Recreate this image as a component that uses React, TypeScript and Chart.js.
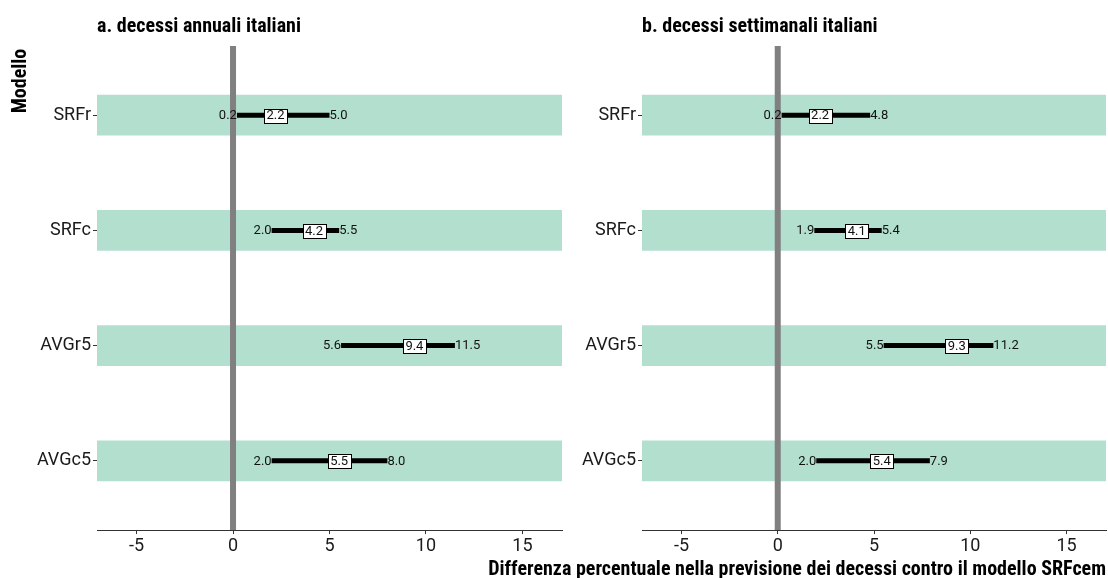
import React, { useEffect, useRef } from "react";
import { Chart, registerables } from "chart.js";
Chart.register(...registerables);

const categories = ["SRFr", "SRFc", "AVGr5", "AVGc5"];
const annualLow = [0.2, 2.0, 5.6, 2.0];
const annualMid = [2.2, 4.2, 9.4, 5.5];
const annualHigh = [5.0, 5.5, 11.5, 8.0];
const weeklyLow = [0.2, 1.9, 5.5, 2.0];
const weeklyMid = [2.2, 4.1, 9.3, 5.4];
const weeklyHigh = [4.8, 5.4, 11.2, 7.9];
const xTicks = [-5, 0, 5, 10, 15];
const xMin = -7.05;
const xMax = 17.05;

const COND = "'Roboto Condensed', 'Liberation Sans Narrow', 'DejaVu Sans Condensed', Roboto, sans-serif";
const TICKF = "Roboto, 'Noto Sans', sans-serif";
const NUMF = "Roboto, 'Noto Sans', sans-serif";
const BAND = "#b3e0ce";
const ZERO = "#808080";

type PanelProps = {
  title: string;
  low: number[];
  mid: number[];
  high: number[];
  left: number;
  width: number;
  yAxisWidth: number;
  padRight: number;
  showYTitle: boolean;
};

function Panel(p: PanelProps) {
  const ref = useRef<HTMLCanvasElement | null>(null);
  useEffect(() => {
    if (!ref.current) return;
    const labelPlugin = {
      id: "labelPlugin",
      afterDatasetsDraw(chart: any) {
        const { ctx, scales } = chart;
        const x = scales.x;
        const y = scales.y;
        ctx.save();
        ctx.textBaseline = "middle";
        ctx.font = `13px ${NUMF}`;
        categories.forEach((_, i) => {
          const py = y.getPixelForValue(i) + 0.5;
          ctx.fillStyle = "#111";
          ctx.textAlign = "right";
          ctx.fillText(p.low[i].toFixed(1), x.getPixelForValue(p.low[i]), py);
          ctx.textAlign = "left";
          ctx.fillText(p.high[i].toFixed(1), x.getPixelForValue(p.high[i]), py);
          const t = p.mid[i].toFixed(1);
          const w = Math.round(ctx.measureText(t).width + 5);
          const h = 14;
          const px = x.getPixelForValue(p.mid[i]);
          const bx = Math.round(px - w / 2) + 0.5;
          const by = Math.round(py - h / 2) + 0.5;
          ctx.fillStyle = "#fff";
          ctx.fillRect(bx, by, w, h);
          ctx.strokeStyle = "#000";
          ctx.lineWidth = 1;
          ctx.strokeRect(bx, by, w, h);
          ctx.fillStyle = "#111";
          ctx.textAlign = "center";
          ctx.fillText(t, px, py + 0.5);
        });
        ctx.restore();
      },
      afterDraw(chart: any) {
        const { ctx } = chart;
        ctx.save();
        ctx.fillStyle = "#000";
        ctx.textBaseline = "middle";
        ctx.textAlign = "left";
        ctx.font = `bold 20px ${COND}`;
        ctx.fillText(p.title, chart.chartArea.left, 27);
        if (p.showYTitle) {
          ctx.translate(21, 81);
          ctx.rotate(-Math.PI / 2);
          ctx.textAlign = "center";
          ctx.fillText("Modello", 0, 0);
        }
        ctx.restore();
      },
    };

    const datasets: any[] = [
      {
        type: "bar",
        indexAxis: "y",
        data: categories.map((_, i) => ({ y: i, x: [xMin, xMax] })),
        backgroundColor: BAND,
        barThickness: 40,
        borderWidth: 0,
        order: 10,
      },
      {
        type: "line",
        data: [
          { x: 0, y: -0.6 },
          { x: 0, y: 3.6 },
        ],
        borderColor: ZERO,
        borderWidth: 6,
        pointRadius: 0,
        borderCapStyle: "butt",
        order: 5,
      },
      ...categories.map((_, i) => ({
        type: "line",
        data: [
          { x: p.low[i], y: i },
          { x: p.high[i], y: i },
        ],
        borderColor: "#000",
        borderWidth: 5,
        pointRadius: 0,
        borderCapStyle: "butt",
        order: 1,
      })),
    ];

    const chart = new Chart(ref.current, {
      type: "line",
      data: { datasets },
      plugins: [labelPlugin],
      options: {
        animation: false,
        responsive: false,
        events: [],
        layout: { padding: { left: 0, top: 46, right: p.padRight, bottom: 0 } },
        plugins: { legend: { display: false }, tooltip: { enabled: false } },
        scales: {
          x: {
            type: "linear",
            min: xMin,
            max: xMax,
            offset: false,
            afterBuildTicks: (s: any) => {
              s.ticks = xTicks.map((v) => ({ value: v }));
            },
            afterFit: (s: any) => {
              s.height = 48;
            },
            grid: { offset: false, drawOnChartArea: false, drawTicks: true, tickLength: 4, color: "#333" },
            border: { display: true, color: "#333", width: 1 },
            ticks: {
              color: "#1a1a1a",
              padding: 2,
              font: { family: TICKF, size: 18 },
              callback: (v: any) => String(v),
            },
          },
          y: {
            type: "linear",
            min: -0.6,
            max: 3.6,
            reverse: true,
            offset: false,
            afterBuildTicks: (s: any) => {
              s.ticks = categories.map((_, i) => ({ value: i }));
            },
            afterFit: (s: any) => {
              s.width = p.yAxisWidth;
            },
            grid: { offset: false, drawOnChartArea: false, drawTicks: true, tickLength: 4, color: "#333" },
            border: { display: false },
            ticks: {
              color: "#1a1a1a",
              padding: 2,
              font: { family: TICKF, size: 18 },
              callback: (v: any) => categories[v] ?? "",
            },
          },
        },
      } as any,
    });
    return () => chart.destroy();
  }, []);
  return (
    <canvas
      ref={ref}
      width={p.width}
      height={578}
      style={{ position: "absolute", left: p.left, top: 0, width: p.width, height: 578 }}
    />
  );
}

export default function App() {
  return (
    <div
      style={{
        position: "fixed",
        left: 0,
        top: 0,
        width: 1108,
        height: 578,
        background: "#fff",
        overflow: "hidden",
      }}
    >
      <Panel
        title="a. decessi annuali italiani"
        low={annualLow}
        mid={annualMid}
        high={annualHigh}
        left={0}
        width={565}
        yAxisWidth={97}
        padRight={3}
        showYTitle={true}
      />
      <Panel
        title="b. decessi settimanali italiani"
        low={weeklyLow}
        mid={weeklyMid}
        high={weeklyHigh}
        left={565}
        width={543}
        yAxisWidth={77}
        padRight={2}
        showYTitle={false}
      />
      <div
        style={{
          position: "absolute",
          right: 2,
          top: 557,
          lineHeight: "22px",
          fontFamily: COND,
          fontWeight: "bold",
          fontSize: 20,
          color: "#000",
          whiteSpace: "nowrap",
        }}
      >
        Differenza percentuale nella previsione dei decessi contro il modello SRFcem
      </div>
    </div>
  );
}
